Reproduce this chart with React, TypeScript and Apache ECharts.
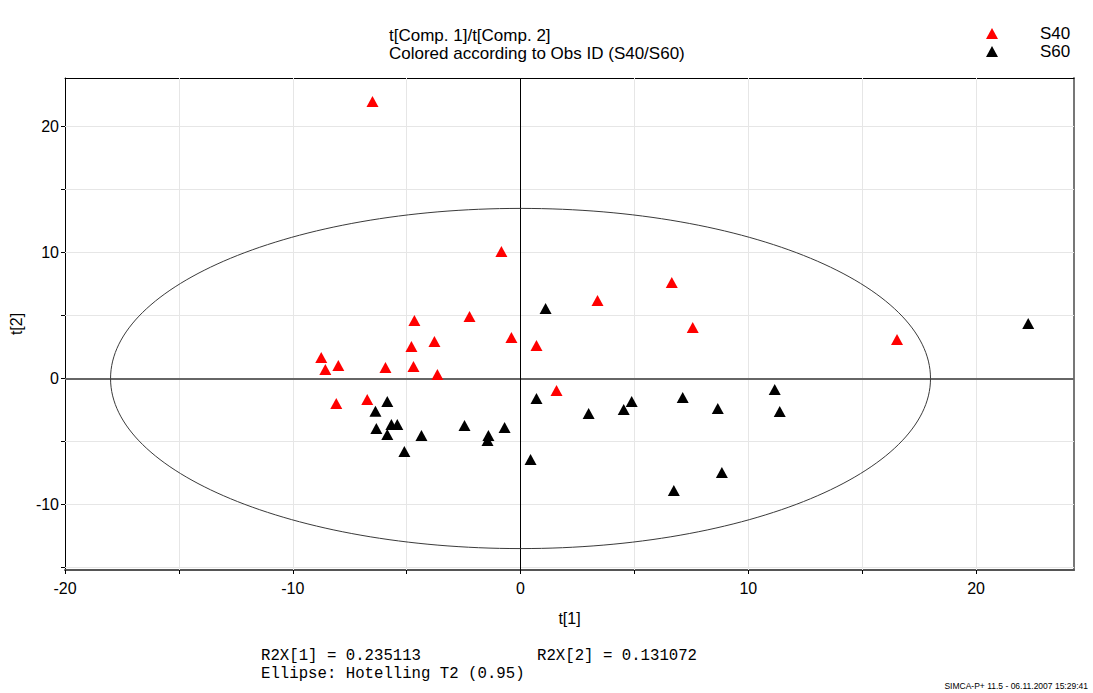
import React, { useEffect, useRef } from "react";
import * as echarts from "echarts";

// ---- data ----
const s40X = [-6.5, -0.84, 6.64, 3.38, 7.56, 16.53, -2.24, -4.66, -0.4, 0.7, -3.78, -4.79, -8.75, -8.0, -8.57, -5.93, -4.7, -3.65, 1.58, -8.09, -6.73];
const s40Y = [21.98, 10.08, 7.62, 6.19, 4.05, 3.1, 4.92, 4.6, 3.25, 2.62, 2.94, 2.54, 1.67, 1.03, 0.71, 0.87, 0.95, 0.32, -0.95, -1.98, -1.67];
const s60X = [1.1, -5.85, -6.37, -6.33, -5.67, -5.41, -5.85, -4.35, -5.1, -2.46, -1.41, -1.45, -0.7, 0.7, 0.44, 11.16, 4.88, 7.12, 4.53, 8.66, 11.38, 2.99, 8.84, 6.73, 22.29];
const s60Y = [5.56, -1.83, -2.6, -3.97, -3.65, -3.65, -4.44, -4.52, -5.79, -3.73, -4.52, -4.92, -3.89, -1.59, -6.43, -0.87, -1.83, -1.51, -2.46, -2.38, -2.62, -2.78, -7.46, -8.89, 4.37];

const xTicks = [-20, -15, -10, -5, 0, 5, 10, 15, 20];
const xLabels = [-20, -10, 0, 10, 20];
const yTicks = [-15, -10, -5, 0, 5, 10, 15, 20];
const yLabels = [-10, 0, 10, 20];
const xGrid = [-15, -10, -5, 5, 10, 15, 20];
const yGrid = [-15, -10, -5, 5, 10, 15, 20];

const ellipseCenter = [0, 0];
const ellipseSemiAxes = [18.0, 13.5];

const xRange = [-20, 24.3];
const yRange = [-15.2, 23.85];

const FONT = "'Liberation Sans', Arial, sans-serif";
const MONO = "'Liberation Mono', 'Courier New', monospace";

export default function App() {
  const ref = useRef<HTMLDivElement>(null);
  useEffect(() => {
    if (!ref.current) return;
    const chart = echarts.init(ref.current, undefined, { renderer: "svg" });
    const pts = (xs: number[], ys: number[]) => xs.map((x, i) => [x, ys[i]]);
    const gridLine = { color: "#e6e6e6", width: 1, type: "solid" as const };
    const option: any = {
      animation: false,
      backgroundColor: "#ffffff",
      title: {
        text: "t[Comp. 1]/t[Comp. 2]\nColored according to Obs ID (S40/S60)",
        left: 389,
        top: 26,
        padding: 0,
        textStyle: { fontFamily: FONT, fontSize: 17, fontWeight: "normal", color: "#000", lineHeight: 18 },
      },
      legend: {
        orient: "vertical",
        left: 986,
        top: 25,
        padding: 0,
        itemWidth: 12,
        itemHeight: 11,
        itemGap: 1,
        selectedMode: false,
        data: [
          { name: "S40", icon: "triangle" },
          { name: "S60", icon: "triangle" },
        ],
        textStyle: { fontFamily: FONT, fontSize: 17, color: "#000", padding: [0, 0, 0, 37] },
      },
      grid: { left: 65, top: 78, right: 19, bottom: 123, containLabel: false },
      xAxis: [
        {
          type: "value",
          position: "bottom",
          min: xRange[0],
          max: xRange[1],
          name: "t[1]",
          nameLocation: "middle",
          nameGap: 40,
          nameTextStyle: { fontFamily: FONT, fontSize: 16, color: "#000" },
          axisLine: { show: true, onZero: false, lineStyle: { color: "#555", width: 2 } },
          axisTick: { show: true, length: 4, customValues: xTicks, lineStyle: { color: "#000" } },
          axisLabel: { customValues: xLabels, margin: 10, fontFamily: FONT, fontSize: 16, color: "#000" },
          splitLine: { show: false },
        },
        {
          type: "value",
          position: "top",
          min: xRange[0],
          max: xRange[1],
          axisLine: { show: true, onZero: false, lineStyle: { color: "#000", width: 1 } },
          axisTick: { show: false },
          axisLabel: { show: false },
          splitLine: { show: false },
        },
      ],
      yAxis: [
        {
          type: "value",
          position: "left",
          min: yRange[0],
          max: yRange[1],
          name: "t[2]",
          nameLocation: "middle",
          nameGap: 32,
          nameRotate: 90,
          nameTextStyle: { fontFamily: FONT, fontSize: 16, color: "#000" },
          axisLine: { show: true, onZero: false, lineStyle: { color: "#000", width: 1 } },
          axisTick: { show: true, length: 4, customValues: yTicks, lineStyle: { color: "#000" } },
          axisLabel: { customValues: yLabels, margin: 6, fontFamily: FONT, fontSize: 16, color: "#000" },
          splitLine: { show: false },
        },
        {
          type: "value",
          position: "right",
          min: yRange[0],
          max: yRange[1],
          axisLine: { show: true, onZero: false, lineStyle: { color: "#777", width: 2 } },
          axisTick: { show: false },
          axisLabel: { show: false },
          splitLine: { show: false },
        },
      ],
      series: [
        {
          type: "custom",
          name: "ellipse",
          xAxisIndex: 0,
          yAxisIndex: 0,
          z: 2,
          silent: true,
          data: [ellipseCenter],
          renderItem: (params: any, api: any) => {
            const c = api.coord([api.value(0), api.value(1)]);
            const s = api.size(ellipseSemiAxes);
            return {
              type: "ellipse",
              shape: { cx: c[0], cy: c[1], rx: s[0], ry: s[1] },
              style: { fill: "none", stroke: "#3a3a3a", lineWidth: 1 },
            };
          },
          markLine: {
            z: 1,
            silent: true,
            symbol: ["none", "none"],
            label: { show: false },
            animation: false,
            data: [
              ...xGrid.map((v) => ({ xAxis: v, lineStyle: gridLine })),
              ...yGrid.map((v) => ({ yAxis: v, lineStyle: gridLine })),
              { yAxis: 0, lineStyle: { color: "#666", width: 2, type: "solid" } },
              { xAxis: 0, lineStyle: { color: "#000", width: 1, type: "solid" } },
            ],
          },
        },
        {
          type: "scatter",
          name: "S40",
          z: 3,
          symbol: "triangle",
          symbolSize: [12, 11],
          itemStyle: { color: "#ff0000", opacity: 1 },
          data: pts(s40X, s40Y),
        },
        {
          type: "scatter",
          name: "S60",
          z: 3,
          symbol: "triangle",
          symbolSize: [12, 11],
          itemStyle: { color: "#000000", opacity: 1 },
          data: pts(s60X, s60Y),
        },
      ],
      graphic: [
        {
          type: "text",
          x: 261,
          y: 656,
          style: { text: "R2X[1] = 0.235113", fontFamily: MONO, fontSize: 15.7, fill: "#000", verticalAlign: "middle" },
        },
        {
          type: "text",
          x: 537,
          y: 656,
          style: { text: "R2X[2] = 0.131072", fontFamily: MONO, fontSize: 15.7, fill: "#000", verticalAlign: "middle" },
        },
        {
          type: "text",
          x: 261,
          y: 674,
          style: { text: "Ellipse: Hotelling T2 (0.95)", fontFamily: MONO, fontSize: 15.7, fill: "#000", verticalAlign: "middle" },
        },
        {
          type: "text",
          x: 1088,
          y: 686,
          style: { text: "SIMCA-P+ 11.5 - 06.11.2007 15:29:41", fontFamily: FONT, fontSize: 8.5, fill: "#000", align: "right", verticalAlign: "middle" },
        },
      ],
    };
    chart.setOption(option);
    return () => chart.dispose();
  }, []);
  return (
    <div
      ref={ref}
      style={{ position: "absolute", left: 0, top: 0, width: 1093, height: 693, background: "#fff" }}
    />
  );
}
